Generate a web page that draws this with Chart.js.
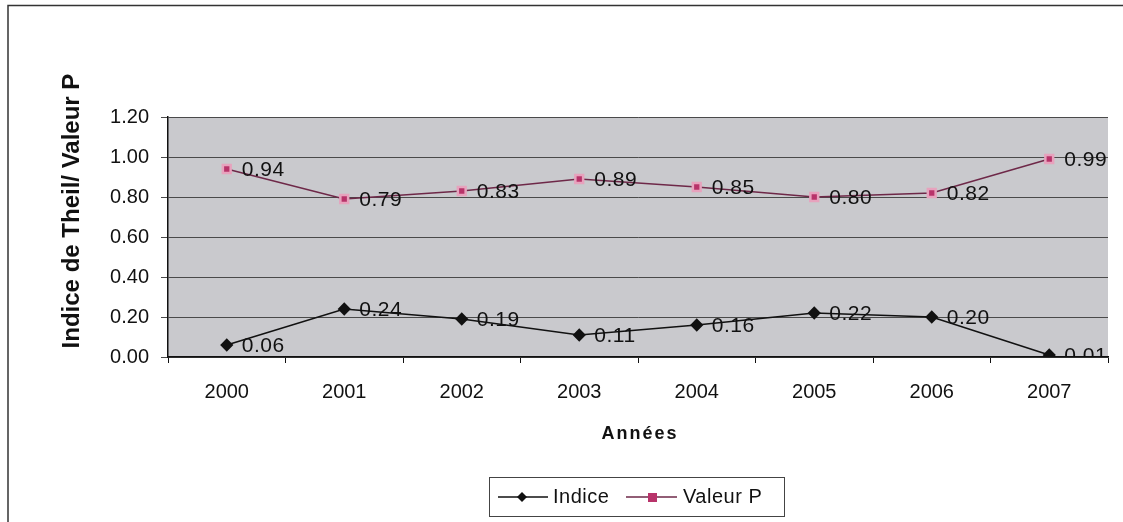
<!DOCTYPE html>
<html lang="fr">
<head>
<meta charset="utf-8">
<title>Indice de Theil / Valeur P</title>
<script src="https://cdn.jsdelivr.net/npm/chart.js@4.4.1/dist/chart.umd.min.js"></script>
<style>
  html, body { margin: 0; padding: 0; background: #fff; }
  #wrap { position: relative; width: 1123px; height: 522px; }
</style>
</head>
<body>
<div id="wrap"><canvas id="theilChart" width="1123" height="522"></canvas></div>
<script>
// data
const annees = ["2000", "2001", "2002", "2003", "2004", "2005", "2006", "2007"];
const indice = [0.06, 0.24, 0.19, 0.11, 0.16, 0.22, 0.20, 0.01];
const valeurP = [0.94, 0.79, 0.83, 0.89, 0.85, 0.80, 0.82, 0.99];
const yTicks = [0, 0.2, 0.4, 0.6, 0.8, 1.0, 1.2];

const FONT = "'Liberation Sans', Arial, sans-serif";
const pinkLine = "#6e2848";
const pinkMark = "#b8336a";

// background, frame, labels, titles and legend drawn straight on the canvas
const decor = {
  id: "decor",
  beforeDraw(chart) {
    const { ctx, chartArea: a } = chart;
    ctx.save();
    ctx.fillStyle = "#fff";
    ctx.fillRect(0, 0, chart.width, chart.height);
    ctx.fillStyle = "#c9c9cd";
    ctx.fillRect(a.left, a.top, a.right - a.left, a.bottom - a.top);
    // outer frame
    ctx.strokeStyle = "#333";
    ctx.lineWidth = 1.5;
    ctx.beginPath();
    ctx.moveTo(8, 522);
    ctx.lineTo(8, 5.5);
    ctx.lineTo(1123, 5.5);
    ctx.stroke();
    ctx.restore();
  },
  afterDatasetsDraw(chart) {
    const { ctx, chartArea: a } = chart;
    ctx.save();
    ctx.beginPath();
    ctx.rect(a.left, a.top, a.right - a.left, a.bottom - a.top);
    ctx.clip();
    ctx.fillStyle = "#111";
    ctx.font = "21px " + FONT;
    ctx.letterSpacing = "0.5px";
    ctx.textAlign = "left";
    ctx.textBaseline = "middle";
    chart.data.datasets.forEach((ds, i) => {
      chart.getDatasetMeta(i).data.forEach((pt, j) => {
        ctx.fillText(ds.data[j].toFixed(2), pt.x + 15, pt.y + 1);
      });
    });
    ctx.restore();
  },
  afterDraw(chart) {
    const { ctx } = chart;
    ctx.save();
    ctx.fillStyle = "#111";
    // y axis title
    ctx.translate(72, 211);
    ctx.rotate(-Math.PI / 2);
    ctx.font = "bold 24px " + FONT;
    ctx.textAlign = "center";
    ctx.textBaseline = "middle";
    ctx.fillText("Indice de Theil/ Valeur P", 0, 0);
    ctx.setTransform(1, 0, 0, 1, 0, 0);
    // x axis title
    ctx.font = "bold 18px " + FONT;
    ctx.letterSpacing = "2px";
    ctx.fillText("Années", 640, 434);
    ctx.letterSpacing = "0px";

    // legend box
    ctx.fillStyle = "#fff";
    ctx.fillRect(489, 477, 295, 39);
    ctx.strokeStyle = "#444";
    ctx.lineWidth = 1;
    ctx.strokeRect(489.5, 477.5, 295, 39);
    const ly = 497;
    // Indice entry
    ctx.strokeStyle = "#111";
    ctx.lineWidth = 1.5;
    ctx.beginPath();
    ctx.moveTo(498, ly);
    ctx.lineTo(548, ly);
    ctx.stroke();
    ctx.fillStyle = "#111";
    ctx.beginPath();
    ctx.moveTo(522, ly - 5);
    ctx.lineTo(527, ly);
    ctx.lineTo(522, ly + 5);
    ctx.lineTo(517, ly);
    ctx.closePath();
    ctx.fill();
    ctx.font = "20px " + FONT;
    ctx.letterSpacing = "0.5px";
    ctx.textAlign = "left";
    ctx.textBaseline = "middle";
    ctx.fillText("Indice", 553, ly);
    // Valeur P entry
    ctx.strokeStyle = pinkLine;
    ctx.beginPath();
    ctx.moveTo(626, ly);
    ctx.lineTo(677, ly);
    ctx.stroke();
    ctx.fillStyle = pinkMark;
    ctx.fillRect(648, ly - 4, 9, 9);
    ctx.fillStyle = "#111";
    ctx.fillText("Valeur P", 683, ly);
    ctx.restore();
  }
};

new Chart(document.getElementById("theilChart").getContext("2d"), {
  type: "line",
  data: {
    labels: annees,
    datasets: [
      {
        label: "Indice",
        data: indice,
        borderColor: "#111",
        borderWidth: 1.6,
        pointStyle: "rectRot",
        pointRadius: 5.5,
        pointBackgroundColor: "#111",
        pointBorderColor: "#111",
        tension: 0
      },
      {
        label: "Valeur P",
        data: valeurP,
        borderColor: pinkLine,
        borderWidth: 1.6,
        pointStyle: "rect",
        pointRadius: 5.5,
        pointBackgroundColor: pinkMark,
        pointBorderColor: "#e7a2bd",
        pointBorderWidth: 2.5,
        tension: 0
      }
    ]
  },
  options: {
    responsive: false,
    animation: false,
    layout: { padding: { left: 0, right: 15, top: 117, bottom: 0 } },
    plugins: {
      legend: { display: false },
      tooltip: { enabled: false }
    },
    scales: {
      x: {
        offset: true,
        grid: {
          offset: true,
          drawOnChartArea: false,
          drawTicks: true,
          tickLength: 6,
          color: "#111"
        },
        border: { color: "#111", width: 1.5 },
        ticks: {
          color: "#111",
          font: { family: FONT, size: 20 },
          padding: 17
        },
        afterFit(scale) { scale.height = 165; }
      },
      y: {
        min: 0,
        max: 1.2,
        afterBuildTicks(scale) { scale.ticks = yTicks.map(v => ({ value: v })); },
        grid: {
          color: "#4a4a4a",
          lineWidth: 1,
          tickLength: 7,
          drawTicks: true
        },
        border: { color: "#111", width: 1.5 },
        ticks: {
          color: "#111",
          font: { family: FONT, size: 20 },
          padding: 12,
          callback: v => v.toFixed(2)
        },
        afterFit(scale) { scale.width = 168; }
      }
    }
  },
  plugins: [decor]
});
</script>
</body>
</html>
